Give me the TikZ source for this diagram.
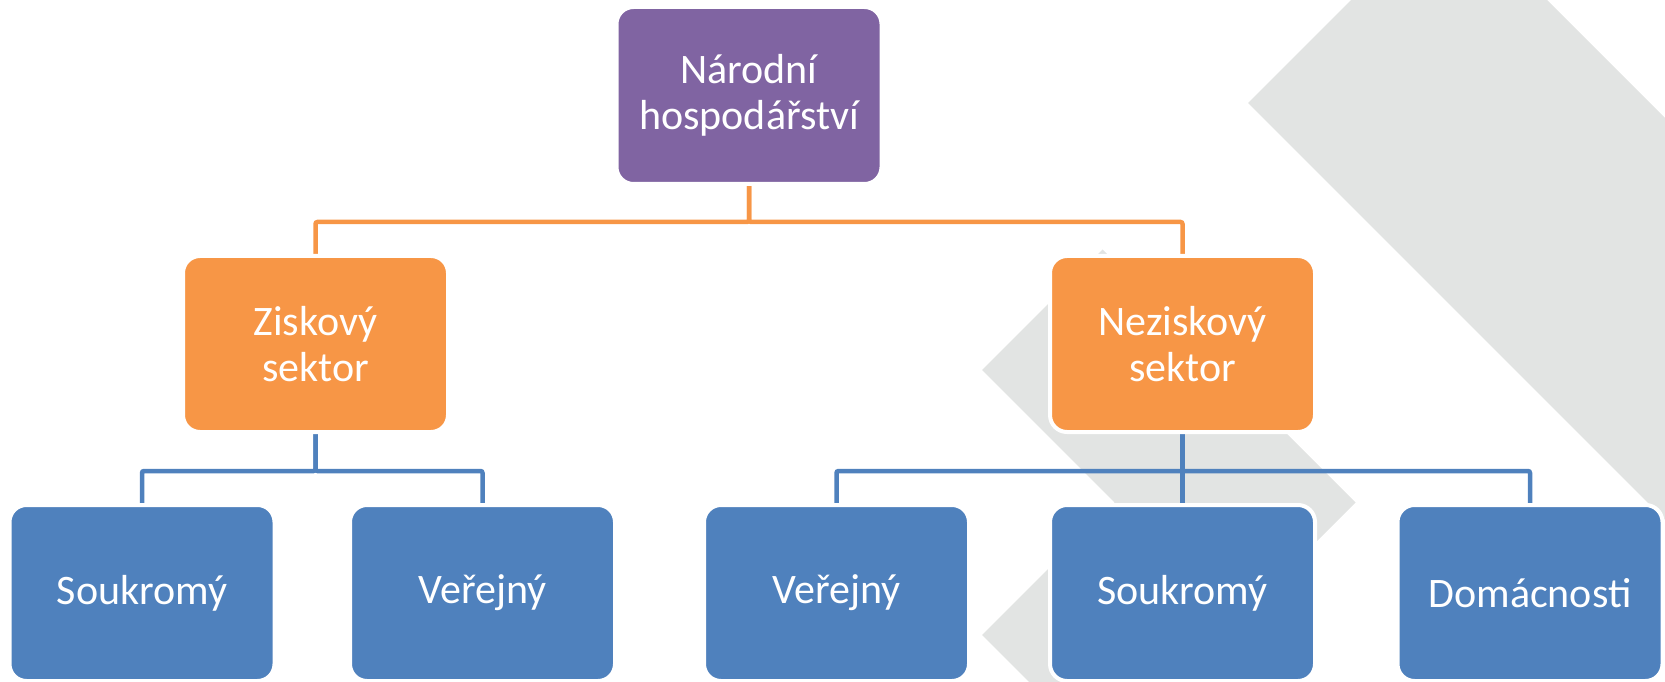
\documentclass[tikz,border=0pt]{standalone}
\usepackage{fontspec}
\setmainfont{Carlito}
\usetikzlibrary{positioning,backgrounds}
\definecolor{hhpurple}{RGB}{128,100,162}
\definecolor{hhorange}{RGB}{247,150,70}
\definecolor{hhblue}{RGB}{79,129,189}
\definecolor{hhgrey}{RGB}{226,228,227}
\tikzset{
  orgbox/.style={rectangle, rounded corners=17pt, draw=white, line width=4pt,
    minimum width=265pt, minimum height=176pt, text=white, align=center,
    font=\fontsize{42}{46}\selectfont},
  headbox/.style={orgbox, fill=hhpurple, minimum height=177pt},
  sectorbox/.style={orgbox, fill=hhorange},
  leafbox/.style={orgbox, fill=hhblue},
  orangelink/.style={draw=hhorange, line width=4.5pt, rounded corners=2pt},
  bluelink/.style={draw=hhblue, line width=4.5pt, rounded corners=2pt},
}
\begin{document}
\begin{tikzpicture}[x=1pt, y=1pt]
            \useasboundingbox (0,0) rectangle (1665,681);
            \node[headbox](NH) at (749,585.5) {Národní\\hospodářství};
            \node[sectorbox](ZS) at (315.5,337) {Ziskový\\sektor};
            \node[sectorbox](NS) at (1182.5,337) {Neziskový\\sektor};
            \node[leafbox](ZSS) at (142,88) {Soukromý};
            \node[leafbox](ZSV) [right=71.5pt of ZSS] {Veřejný};
            \node[leafbox](NSS) [below=69pt of NS] {Soukromý};
            \node[leafbox](NSV) [left=77pt of NSS] {Veřejný};
            \node[leafbox](NSD) [right=78.5pt of NSS] {Domácnosti};
            \begin{scope}[on background layer]
            \clip (0,0) rectangle (1665,681);
            % grey chevrons behind the chart
            \fill[hhgrey] (1449,779) -- (1248,578) -- (2048,-222) -- (2249,-21) -- cycle;
            \fill[hhgrey] (1102.5,431.5) -- (1355.5,178.5) -- (1102.5,-74.5) -- (982,46)
                -- (1114.5,178.5) -- (982,311) -- cycle;
            \draw[orangelink](NH.south) -- ++(0,-36) -| (ZS.north);
            \draw[orangelink](NH.south) -- ++(0,-36) -| (NS.north);
            \draw[bluelink](ZS.south) -- ++(0,-37) -| (ZSS.north);
            \draw[bluelink](ZS.south) -- ++(0,-37) -| (ZSV.north);
            \draw[bluelink](NS.south) -- ++(0,-37) -| (NSV.north);
            \draw[bluelink](NS.south) -- (NSS.north);
            \draw[bluelink](NS.south) -- ++(0,-37) -| (NSD.north);
            \end{scope}
            \end{tikzpicture}
\end{document}
